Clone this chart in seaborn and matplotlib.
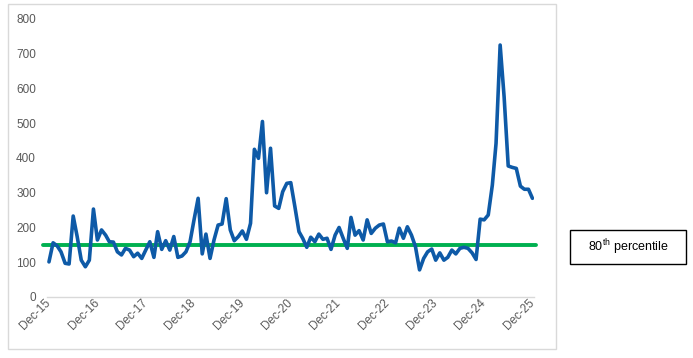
import pandas as pd
import numpy as np
import matplotlib.pyplot as plt
import matplotlib.dates as mdates
from matplotlib.patches import Rectangle
import seaborn as sns

# monthly values, Dec-15 .. Dec-25
values = [101, 156, 147, 130, 97, 95, 233, 174, 106, 87, 106, 253,
          164, 193, 178, 159, 158, 130, 121, 140, 135, 116, 126, 111,
          135, 159, 114, 188, 137, 162, 135, 174, 114, 118, 130, 159,
          222, 284, 124, 181, 111, 164, 207, 210, 283, 193, 162, 174,
          190, 166, 212, 425, 399, 505, 300, 428, 262, 255, 303, 327,
          329, 260, 188, 169, 143, 172, 159, 181, 166, 169, 137, 178,
          200, 169, 140, 229, 178, 191, 164, 222, 183, 198, 207, 210,
          159, 161, 156, 198, 169, 202, 178, 145, 78, 111, 130, 138,
          106, 127, 106, 114, 135, 124, 140, 143, 140, 127, 108, 224,
          222, 236, 322, 442, 725, 576, 377, 373, 370, 319, 310, 310,
          284]
dates = pd.date_range("2015-12-01", periods=len(values), freq="MS")
percentile_80 = 150
yticks = [0, 100, 200, 300, 400, 500, 600, 700, 800]
box_label = r"80$^{\mathrm{th}}$ percentile"

df = pd.DataFrame({"date": dates, "value": values})

sns.set_theme(style="white")
plt.rcParams["font.family"] = ["Liberation Sans", "DejaVu Sans"]
plt.rcParams["mathtext.fontset"] = "custom"
plt.rcParams["mathtext.rm"] = "Liberation Sans"

fig = plt.figure(figsize=(6.93, 3.58), dpi=100)
ax = fig.add_axes([0.0678, 0.1704, 0.7028, 0.7766])

sns.lineplot(data=df, x="date", y="value", ax=ax, color="#0E5AA7",
             linewidth=2.6, solid_joinstyle="round", zorder=3)
ax.axhline(percentile_80, xmin=-0.008, xmax=1.004, color="#00B050",
           linewidth=2.8, clip_on=False, zorder=2)

ax.set_ylim(0, 800)
ax.set_yticks(yticks)
ax.set_xlim(dates[0] - pd.Timedelta(days=15), dates[-1] + pd.Timedelta(days=12))
ax.xaxis.set_major_locator(mdates.MonthLocator(bymonth=12))
ax.xaxis.set_major_formatter(mdates.DateFormatter("%b-%y"))
ax.set_xlabel("")
ax.set_ylabel("")

for s in ["left", "right", "top"]:
    ax.spines[s].set_visible(False)
ax.spines["bottom"].set_color("#D9D9D9")
ax.spines["bottom"].set_linewidth(1)
ax.tick_params(axis="both", length=0, labelsize=8.5, labelcolor="#595959")
ax.tick_params(axis="y", pad=8)
ax.tick_params(axis="x", pad=3)
for lab in ax.get_xticklabels():
    lab.set_rotation(45)
    lab.set_ha("right")
    lab.set_va("center")
    lab.set_rotation_mode("anchor")

# chart frame
fig.patches.append(Rectangle((8 / 693, 1 - 349 / 358), 548 / 693, 345 / 358,
                             transform=fig.transFigure, fill=False,
                             edgecolor="#D9D9D9", linewidth=1))
# legend-like text box
fig.patches.append(Rectangle((570 / 693, 1 - 264 / 358), 116 / 693, 34 / 358,
                             transform=fig.transFigure, fill=False,
                             edgecolor="black", linewidth=1))
fig.text(628 / 693, 1 - 247 / 358, box_label, ha="center", va="center",
         fontsize=9, color="black")

fig.savefig("out.png", dpi=100)
